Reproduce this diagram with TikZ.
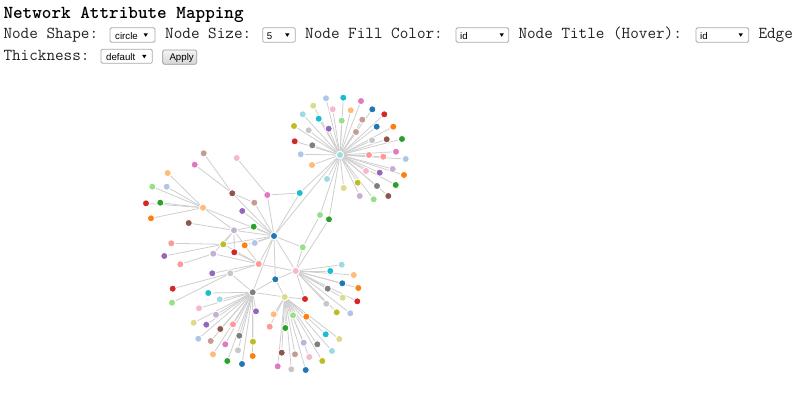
\documentclass[tikz,border=0pt]{standalone}
\usepackage{fontspec}
\newfontfamily\selfont{Liberation Sans}
\definecolor{c0}{HTML}{1F77B4}\definecolor{c1}{HTML}{AEC7E8}
\definecolor{c2}{HTML}{FF7F0E}\definecolor{c3}{HTML}{FFBB78}
\definecolor{c4}{HTML}{2CA02C}\definecolor{c5}{HTML}{98DF8A}
\definecolor{c6}{HTML}{D62728}\definecolor{c7}{HTML}{FF9896}
\definecolor{c8}{HTML}{9467BD}\definecolor{c9}{HTML}{C5B0D5}
\definecolor{c10}{HTML}{8C564B}\definecolor{c11}{HTML}{C49C94}
\definecolor{c12}{HTML}{E377C2}\definecolor{c13}{HTML}{F7B6D2}
\definecolor{c14}{HTML}{7F7F7F}\definecolor{c15}{HTML}{C7C7C7}
\definecolor{c16}{HTML}{BCBD22}\definecolor{c17}{HTML}{DBDB8D}
\definecolor{c18}{HTML}{17BECF}\definecolor{c19}{HTML}{9EDAE5}
\definecolor{txt}{HTML}{222222}
\definecolor{selborder}{HTML}{A9A9A9}
\definecolor{edgecol}{HTML}{CFCFCF}
\pgfdeclarelayer{bglayer}
\pgfdeclarelayer{edgelayer}
\pgfsetlayers{bglayer,edgelayer,main}
\newcommand\mynode[4]{\node[gnode,fill=#4] (#1) at (#2,#3) {};}
\tikzset{
  gnode/.style={circle,inner sep=0pt,minimum size=7.2pt,draw=white,line width=0.9pt},
  gedge/.style={draw=edgecol,line width=0.8pt},
  lbl/.style={anchor=base west,inner sep=0pt,text=txt,font=\ttfamily\fontsize{16.7}{20}\selectfont},
  ttl/.style={anchor=base west,inner sep=0pt,text=black,font=\ttfamily\bfseries\fontsize{18.3}{22}\selectfont},
  selbox/.style={draw=selborder,fill=white,rounded corners=1.5pt,line width=0.8pt},
  seltxt/.style={anchor=base west,inner sep=0pt,text=black,font=\selfont\fontsize{9.7}{11}\selectfont},
}
\begin{document}
\begin{tikzpicture}[x=1pt,y=-1pt]
\useasboundingbox (0,0) rectangle (800,407);
\begin{pgfonlayer}{bglayer}
\fill[white] (0,0) rectangle (800,407);
\end{pgfonlayer}
% ---------- header ----------
\node[ttl] (title) at (3.3,18.5) {Network Attribute Mapping};
\node[lbl] (lshape) at (3.3,38.3) {Node Shape:};
\node[lbl] (lsize) at (165,38.3) {Node Size:};
\node[lbl] (lfill) at (305,38.3) {Node Fill Color:};
\node[lbl] (ltitle) at (518.3,38.3) {Node Title (Hover):};
\node[lbl] (ledge) at (758.3,38.3) {Edge};
\node[lbl] (lthick) at (3.3,60.3) {Thickness:};
% select boxes
\draw[selbox] (110,27.7) rectangle (155,42.3);
\node[seltxt] (s1) at (115,39) {circle};
\fill[black] (143.5,33.3) -- (147.9,33.3) -- (145.7,36.8) -- cycle;
\draw[selbox] (262.7,27.7) rectangle (295.3,42.3);
\node[seltxt] (s2) at (266.7,39) {5};
\fill[black] (285.1,33.3) -- (289.5,33.3) -- (287.3,36.8) -- cycle;
\draw[selbox] (456,27.7) rectangle (508.7,42.3);
\node[seltxt] (s3) at (460,39) {id};
\fill[black] (499.5,33.3) -- (503.9,33.3) -- (501.7,36.8) -- cycle;
\draw[selbox] (696,27.7) rectangle (748.7,42.3);
\node[seltxt] (s4) at (700,39) {id};
\fill[black] (738.5,33.3) -- (742.9,33.3) -- (740.7,36.8) -- cycle;
\draw[selbox] (101,49.3) rectangle (152.3,63.3);
\node[seltxt] (s5) at (106,60.2) {default};
\fill[black] (142.1,54.8) -- (146.5,54.8) -- (144.3,58.3) -- cycle;
\shade[top color=white!96!black,bottom color=white!84!black,draw=black!40,rounded corners=1.5pt,line width=0.7pt] (162.7,50) rectangle (196.7,64.3);
\node[seltxt] (apply) at (169.3,60.8) {Apply};
% ---------- graph nodes ----------
\mynode{t0}{340}{155}{c19}
\mynode{t1}{326}{98.3}{c1}
\mynode{t2}{343.3}{97.7}{c18}
\mynode{t3}{361}{101}{c12}
\mynode{t4}{313.3}{105.7}{c17}
\mynode{t5}{332.7}{109.3}{c13}
\mynode{t6}{350.7}{110.3}{c3}
\mynode{t7}{372.3}{109.3}{c0}
\mynode{t8}{302.7}{114.3}{c19}
\mynode{t9}{318.7}{118.7}{c18}
\mynode{t10}{341.7}{120.7}{c5}
\mynode{t11}{362.3}{119.7}{c11}
\mynode{t12}{384.3}{114.3}{c6}
\mynode{t13}{294}{126}{c16}
\mynode{t14}{308.7}{130.3}{c15}
\mynode{t15}{328.7}{128.7}{c8}
\mynode{t16}{376.7}{126.7}{c0}
\mynode{t17}{393.3}{126.7}{c2}
\mynode{t18}{356}{132}{c11}
\mynode{t19}{294.7}{141.3}{c6}
\mynode{t20}{312.3}{145.3}{c14}
\mynode{t21}{372}{140.3}{c15}
\mynode{t22}{386.7}{139.3}{c10}
\mynode{t23}{402}{139}{c4}
\mynode{t24}{300.7}{154.3}{c1}
\mynode{t25}{312}{165}{c3}
\mynode{t26}{369}{155}{c7}
\mynode{t27}{383.3}{156.7}{c7}
\mynode{t28}{396}{151.7}{c12}
\mynode{t29}{405.7}{159}{c1}
\mynode{t30}{366}{171}{c13}
\mynode{t31}{379.7}{172.7}{c8}
\mynode{t32}{392.7}{169}{c9}
\mynode{t33}{404}{175}{c2}
\mynode{t34}{327}{179}{c19}
\mynode{t35}{357.7}{182.7}{c16}
\mynode{t36}{377}{186}{c14}
\mynode{t37}{395.7}{185}{c4}
\mynode{t38}{343.7}{188}{c17}
\mynode{t39}{359.7}{196}{c9}
\mynode{t40}{373.7}{199.3}{c5}
\mynode{t41}{388.3}{196}{c10}
\mynode{cy}{299.7}{193}{c18}
\mynode{lgA}{320}{215}{c5}
\mynode{grA}{329}{219.3}{c4}
% left / centre
\mynode{a1}{203.7}{153.3}{c11}
\mynode{a2}{236.7}{158}{c13}
\mynode{a3}{194.7}{164.7}{c12}
\mynode{a4}{167.7}{173}{c3}
\mynode{a5}{152.3}{186.7}{c5}
\mynode{a6}{166.7}{186.7}{c1}
\mynode{br}{232.3}{193.3}{c10}
\mynode{pk}{267.3}{195}{c12}
\mynode{a7}{146}{203.3}{c6}
\mynode{a8}{160.3}{202.7}{c4}
\mynode{sh}{203}{207.7}{c3}
\mynode{lb}{254.3}{202.7}{c11}
\mynode{pu}{242.3}{211}{c8}
\mynode{a9}{151}{218.3}{c2}
\mynode{brB}{188.7}{223}{c10}
\mynode{gn}{253.7}{226.7}{c4}
\mynode{H2}{274}{236}{c0}
\mynode{lp}{234}{230.3}{c9}
\mynode{lrA}{171.3}{243.3}{c7}
\mynode{ol}{223.3}{244.3}{c16}
\mynode{org}{244.7}{245.3}{c2}
\mynode{lbl}{254.7}{243}{c1}
\mynode{lgB}{302.7}{247.3}{c5}
\mynode{puB}{164.3}{256}{c8}
\mynode{lpB}{213.3}{253.7}{c9}
\mynode{rd}{234.3}{252.3}{c6}
\mynode{lrB}{180.3}{264.3}{c7}
\mynode{lrC}{258.7}{264}{c7}
\mynode{H3}{295.7}{271}{c13}
% right of H3
\mynode{r1}{341.7}{264.7}{c19}
\mynode{r2}{330.3}{271}{c18}
\mynode{r3}{353.7}{275}{c3}
\mynode{r4}{342.3}{283.3}{c0}
\mynode{r5}{358.3}{288}{c2}
\mynode{r6}{327.7}{288.7}{c14}
\mynode{r7}{342.7}{297.7}{c17}
\mynode{r8}{357.3}{301.3}{c6}
\mynode{r9}{326.3}{303.7}{c15}
\mynode{r10}{336.7}{312.3}{c16}
\mynode{r11}{350.3}{313.3}{c1}
\mynode{rdx}{305}{299}{c6}
% bottom
\mynode{puC}{212.3}{273.3}{c8}
\mynode{lgy}{230.3}{273.3}{c15}
\mynode{bl}{275.3}{279.3}{c0}
\mynode{rdB}{172.7}{288.7}{c6}
\mynode{H4}{252.7}{292.3}{c14}
\mynode{H5}{284.7}{297}{c17}
\mynode{lgC}{172}{302.7}{c5}
\mynode{g1}{208.3}{293}{c18}
\mynode{g2}{219.7}{299.3}{c19}
\mynode{g3}{199}{308.3}{c13}
\mynode{g4}{256}{311.3}{c8}
\mynode{g5}{216}{314.7}{c9}
\mynode{g6}{193.7}{322.7}{c17}
\mynode{g7}{206.3}{324.7}{c8}
\mynode{g8}{233}{324.3}{c7}
\mynode{g9}{220.3}{329}{c10}
\mynode{g10}{239.3}{335.7}{c14}
\mynode{g11}{198.3}{338.7}{c1}
\mynode{g12}{210.7}{341}{c11}
\mynode{g13}{225.3}{344.3}{c12}
\mynode{g14}{253}{341.7}{c16}
\mynode{g15}{238}{350.3}{c15}
\mynode{g16}{213}{354.3}{c3}
\mynode{g17}{252.7}{356}{c2}
\mynode{g18}{227.3}{361}{c4}
\mynode{g19}{242}{364}{c0}
\mynode{h1}{273.7}{314.3}{c3}
\mynode{h2}{293}{315.3}{c5}
\mynode{h3}{306.3}{316.7}{c2}
\mynode{h4}{269.7}{326.7}{c7}
\mynode{h5}{285.3}{328}{c4}
\mynode{h6}{325.7}{334.3}{c18}
\mynode{h7}{339.3}{339}{c17}
\mynode{h8}{303.7}{342.7}{c9}
\mynode{h9}{317.3}{344.3}{c14}
\mynode{h10}{332}{351}{c19}
\mynode{h11}{281.7}{352.7}{c10}
\mynode{h12}{295}{354.3}{c11}
\mynode{h13}{309.3}{357}{c13}
\mynode{h14}{322.3}{361}{c16}
\mynode{h15}{277.7}{366.3}{c12}
\mynode{h16}{291.3}{369.3}{c15}
\mynode{h17}{305.7}{370}{c0}
% ---------- edges ----------
\begin{pgfonlayer}{edgelayer}
\foreach \i in {1,...,41} \draw[gedge] (t0) -- (t\i);
\foreach \i in {1,...,11} \draw[gedge] (H3) -- (r\i);
\foreach \i in {1,...,19} \draw[gedge] (H4) -- (g\i);
\foreach \i in {1,...,17} \draw[gedge] (H5) -- (h\i);
\foreach \a/\b in {t0/cy,t0/lgA,t0/grA,t0/H2,cy/pk,cy/H2,pk/a2,pk/H2,
  br/a1,br/a3,br/lb,br/H2,lb/H2,pu/H2,
  sh/a4,sh/a5,sh/a6,sh/a7,sh/a8,sh/a9,sh/lp,sh/H2,brB/lp,
  lp/gn,lp/H2,lp/ol,lp/rd,lp/org,gn/H2,lrA/ol,puB/ol,lrB/lpB,
  ol/H2,ol/lrC,org/H2,org/lrC,lbl/H2,rd/lrC,lpB/lrC,lpB/lp,
  lrC/H2,lrC/H3,lgB/H2,lgB/lgA,lgB/H3,grA/H3,
  H3/rdx,H3/bl,H3/H2,puC/lrC,lgy/lrC,lgy/H4,rdB/lgy,lgC/lgy,
  bl/H2,bl/H4,bl/H5,H4/H2,H4/H5,rdx/H5}
  \draw[gedge] (\a) -- (\b);
\end{pgfonlayer}
\end{tikzpicture}
\end{document}
